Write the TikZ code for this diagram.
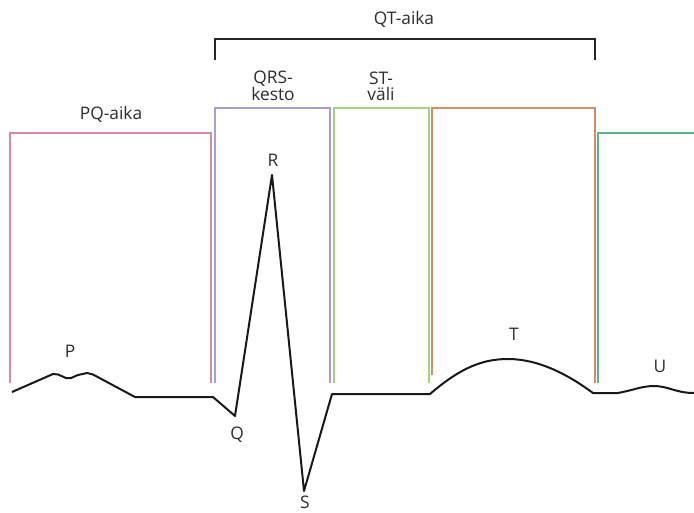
\documentclass[tikz,border=0pt]{standalone}
\usepackage{fontspec}
\setmainfont{Open Sans}
\definecolor{pqcol}{RGB}{212,140,160}
\definecolor{qrscol}{RGB}{170,156,214}
\definecolor{stcol}{RGB}{160,212,130}
\definecolor{tcol}{RGB}{216,140,100}
\definecolor{ucol}{RGB}{90,180,135}
\definecolor{txtcol}{RGB}{45,45,45}
\begin{document}
\begin{tikzpicture}[x=0.75pt,y=-0.75pt,
  interval/.style={line width=1.1pt},
  wave/.style={line width=1.5pt,black!90,line join=round},
  bracket/.style={line width=1pt,black!85},
  lbl/.style={text=txtcol,font=\fontsize{13}{12}\selectfont,inner sep=0pt,align=center}]
\useasboundingbox (0,0) rectangle (694,512);
\fill[white] (0,0) rectangle (694,512);

% interval frames
\draw[interval,pqcol]  (10,383) -- (10,133) -- (211,133) -- (211,383);
\draw[interval,qrscol] (215,383) -- (215,108) -- (330,108) -- (330,383);
\draw[interval,stcol]  (334,383) -- (334,108) -- (429,108) -- (429,383);
\draw[interval,tcol]   (432,375) -- (432,108) -- (595,108) -- (595,383);
\draw[interval,ucol]   (598,383) -- (598,133) -- (694,133);

% QT bracket
\draw[bracket] (215,60) -- (215,39) -- (595,39) -- (595,60);

% labels
\node[lbl] (qt)  at (404,19)  {QT-aika};
\node[lbl] (pq)  at (111,114) {PQ-aika};
\node[lbl] (qrs) at (273,86)  {QRS-\\kesto};
\node[lbl] (st)  at (381,86)  {ST-\\väli};
\node[lbl] (p)   at (70,351)  {P};
\node[lbl] (r)   at (273,160) {R};
\node[lbl] (q)   at (237,435) {Q};
\node[lbl] (s)   at (305,502) {S};
\node[lbl] (t)   at (514,334) {T};
\node[lbl] (u)   at (660,366) {U};

% ECG trace
\draw[wave] (12,392) -- (53,374) -- (58,374.5) -- (66,378) -- (71,378) -- (78,375)
  -- (87,373) -- (93,374.5) -- (135,397) -- (213,397) -- (235,416) -- (272,175)
  -- (304,491) -- (332,394) -- (430,394)
  .. controls (458,370) and (480,359) .. (508,359)
  .. controls (540,359) and (570,376) .. (593,393) -- (618,393)
  .. controls (634,390) and (642,386) .. (654,386)
  .. controls (668,386) and (676,393) .. (694,393);
\end{tikzpicture}
\end{document}
